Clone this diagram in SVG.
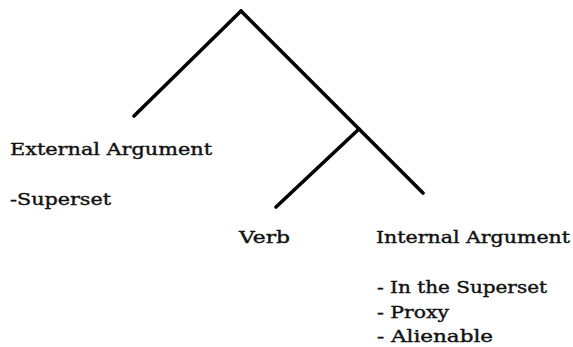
<svg xmlns="http://www.w3.org/2000/svg" width="573" height="347" viewBox="0 0 573 347">
<style>
.t{font-family:"DejaVu Serif","Liberation Serif",serif;font-size:17px;fill:#111;stroke:#111;stroke-width:0.4px;}
.e{stroke:#000;stroke-width:3.6;stroke-linecap:round;fill:none;}
</style>
<rect width="573" height="347" fill="#fff"/>
<g id="connectors">
<line class="e" x1="241" y1="11" x2="134" y2="116"/>
<line class="e" x1="241" y1="11" x2="423" y2="193"/>
<line class="e" x1="359" y1="129" x2="276" y2="207"/>
</g>
<g id="external"><text class="t" x="10" y="155" textLength="202" lengthAdjust="spacingAndGlyphs">External Argument</text>
<text class="t" x="10" y="205" textLength="101" lengthAdjust="spacingAndGlyphs">-Superset</text></g>
<g id="verb"><text class="t" x="239" y="243" textLength="51" lengthAdjust="spacingAndGlyphs">Verb</text></g>
<g id="internal"><text class="t" x="376" y="243" textLength="194" lengthAdjust="spacingAndGlyphs">Internal Argument</text>
<text class="t" x="377" y="293" textLength="170" lengthAdjust="spacingAndGlyphs">- In the Superset</text>
<text class="t" x="377" y="318" textLength="72" lengthAdjust="spacingAndGlyphs">- Proxy</text>
<text class="t" x="377" y="342" textLength="116" lengthAdjust="spacingAndGlyphs">- Alienable</text></g>
</svg>
